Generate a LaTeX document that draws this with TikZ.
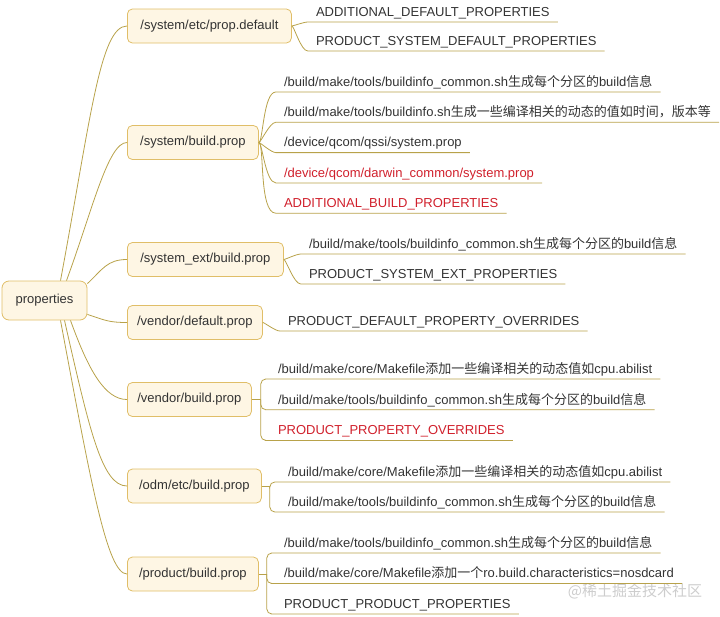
\documentclass[tikz,border=0pt]{standalone}
\usepackage{fontspec}
\setmainfont{Liberation Sans}
\newfontfamily\cjk{Noto Sans CJK SC}
\usepackage{tikz}

\definecolor{boxline}{RGB}{224,190,104}
\definecolor{boxfill}{RGB}{254,246,228}
\definecolor{linkolive}{RGB}{184,162,74}
\definecolor{txtgray}{RGB}{51,51,51}
\definecolor{propred}{RGB}{208,32,44}
\definecolor{wmgray}{RGB}{205,205,205}

\newcommand{\zw}[1]{{\cjk #1}}

\begin{document}
\begin{tikzpicture}[
            x = 1pt, y = 1pt, % one unit per pixel
            font = \fontsize{13}{15}\selectfont,
            text = txtgray
        ]

        \tikzstyle{propbox}=[
            draw = boxline,
            fill = boxfill,
            line width = 0.8pt,
            rounded corners = 5pt,
            minimum height = 34pt,
            anchor = west
        ]
        \tikzstyle{leaf}=[
            anchor = south west,
            inner xsep = 8pt,
            inner ysep = 0pt,
            text height = 10pt,
            text depth = 5.5pt
        ]
        \tikzstyle{link}=[draw = linkolive, line width = 0.8pt]
        \tikzstyle{fan}=[out = 0, in = 180, out looseness = 0.2, in looseness = 0.6]
        \tikzstyle{bracket}=[link, rounded corners = 5pt]

        \useasboundingbox (0,0) rectangle (720,-616);

        \node[propbox, anchor=center, minimum width=85pt, minimum height=39pt, rounded corners=7pt] (root) at (44.5,-300.5) {properties};

        \node[propbox, minimum width=164pt] (pd) at (127,-26) {/system/etc/prop.default};
        \node[propbox, minimum width=131pt] (sysb) at (127,-142.5) {/system/build.prop};
        \node[propbox, minimum width=156pt] (sext) at (127,-259.5) {/system\_ext/build.prop};
        \node[propbox, minimum width=135pt] (vdef) at (127,-322.5) {/vendor/default.prop};
        \node[propbox, minimum width=124pt] (vb) at (127,-399.5) {/vendor/build.prop};
        \node[propbox, minimum width=134pt] (odm) at (127,-486) {/odm/etc/build.prop};
        \node[propbox, minimum width=131pt] (prod) at (127,-574) {/product/build.prop};

        % /system/etc/prop.default
        \node[leaf] (pd1) at ([xshift=16pt,yshift=4pt]pd.east) {ADDITIONAL\_DEFAULT\_PROPERTIES};
        \node[leaf] (pd2) at ([yshift=-29pt]pd1.south west) {PRODUCT\_SYSTEM\_DEFAULT\_PROPERTIES};

        % /system/build.prop
        \node[leaf] (sb1) at ([xshift=17pt,yshift=50.5pt]sysb.east) {/build/make/tools/buildinfo\_common.sh\zw{生成每个分区的}build\zw{信息}};
        \node[leaf] (sb2) at ([yshift=-30.3pt]sb1.south west) {/build/make/tools/buildinfo.sh\zw{生成一些编译相关的动态的值如时间，版本等}};
        \node[leaf] (sb3) at ([yshift=-30.3pt]sb2.south west) {/device/qcom/qssi/system.prop};
        \node[leaf, text=propred] (sb4) at ([yshift=-30.3pt]sb3.south west) {/device/qcom/darwin\_common/system.prop};
        \node[leaf, text=propred] (sb5) at ([yshift=-30.3pt]sb4.south west) {ADDITIONAL\_BUILD\_PROPERTIES};

        % /system_ext/build.prop
        \node[leaf] (se1) at ([xshift=17pt,yshift=5.5pt]sext.east) {/build/make/tools/buildinfo\_common.sh\zw{生成每个分区的}build\zw{信息}};
        \node[leaf] (se2) at ([yshift=-30pt]se1.south west) {PRODUCT\_SYSTEM\_EXT\_PROPERTIES};

        % /vendor/default.prop
        \node[leaf] (vd1) at ([xshift=17pt,yshift=-8.5pt]vdef.east) {PRODUCT\_DEFAULT\_PROPERTY\_OVERRIDES};

        % /vendor/build.prop
        \node[leaf] (vb1) at ([xshift=18pt,yshift=20.5pt]vb.east) {/build/make/core/Makefile\zw{添加一些编译相关的动态值如}cpu.abilist};
        \node[leaf] (vb2) at ([yshift=-30.7pt]vb1.south west) {/build/make/tools/buildinfo\_common.sh\zw{生成每个分区的}build\zw{信息}};
        \node[leaf, text=propred] (vb3) at ([yshift=-30.7pt]vb2.south west) {PRODUCT\_PROPERTY\_OVERRIDES};

        % /odm/etc/build.prop
        \node[leaf] (od1) at ([xshift=18pt,yshift=4pt]odm.east) {/build/make/core/Makefile\zw{添加一些编译相关的动态值如}cpu.abilist};
        \node[leaf] (od2) at ([yshift=-30pt]od1.south west) {/build/make/tools/buildinfo\_common.sh\zw{生成每个分区的}build\zw{信息}};

        % /product/build.prop
        \node[leaf] (pr1) at ([xshift=17pt,yshift=21pt]prod.east) {/build/make/tools/buildinfo\_common.sh\zw{生成每个分区的}build\zw{信息}};
        \node[leaf] (pr2) at ([yshift=-30.5pt]pr1.south west) {/build/make/core/Makefile\zw{添加一个}ro.build.characteristics=nosdcard};
        \node[leaf] (pr3) at ([yshift=-30.5pt]pr2.south west) {PRODUCT\_PRODUCT\_PROPERTIES};

        \node[text=wmgray, font=\cjk\fontsize{15}{17}\selectfont] (wm) at (635,-591) {@稀土掘金技术社区};

        \coordinate (vbj) at ([xshift=9pt]vb.east);
        \coordinate (odj) at ([xshift=8pt]odm.east);
        \coordinate (prj) at ([xshift=8pt]prod.east);

        % root to first level
        \draw[link] ([xshift=16pt]root.north) .. controls +(30,161) and +(-27,0) .. (pd.west);
        \draw[link] ([xshift=22pt]root.north) .. controls +(26,71) and +(-19,0) .. (sysb.west);
        \draw[link] ([yshift=-3pt]root.north east) .. controls +(15,14) and +(-20,0) .. (sext.west);
        \draw[link] ([yshift=6pt]root.south east) .. controls +(18,-6) and +(-18,0) .. (vdef.west);
        \draw[link] ([xshift=26pt]root.south) .. controls +(18,-50) and +(-22,0) .. (vb.west);
        \draw[link] ([xshift=20pt]root.south) .. controls +(25,-110) and +(-25,0) .. (odm.west);
        \draw[link] ([xshift=16pt]root.south) .. controls +(30,-160) and +(-20,0) .. (prod.west);

        % second level, fanned
        \draw[link] (pd.east) to[fan] (pd1.south west) -- (pd1.south east);
        \draw[link] (pd.east) to[fan] (pd2.south west) -- (pd2.south east);
        \draw[link] (sysb.east) to[fan] (sb1.south west) -- (sb1.south east);
        \draw[link] (sysb.east) to[fan] (sb2.south west) -- (sb2.south east);
        \draw[link] (sysb.east) to[fan] (sb3.south west) -- (sb3.south east);
        \draw[link] (sysb.east) to[fan] (sb4.south west) -- (sb4.south east);
        \draw[link] (sysb.east) to[fan] (sb5.south west) -- (sb5.south east);
        \draw[link] (sext.east) to[fan] (se1.south west) -- (se1.south east);
        \draw[link] (sext.east) to[fan] (se2.south west) -- (se2.south east);
        \draw[link] (vdef.east) to[fan] (vd1.south west) -- (vd1.south east);

        % second level, bracketed
        \draw[link] (vb.east) -- (vbj);
        \draw[bracket] (vbj) |- (vb1.south west) -- (vb1.south east);
        \draw[bracket] (vbj) |- (vb2.south west) -- (vb2.south east);
        \draw[bracket] (vbj) |- (vb3.south west) -- (vb3.south east);
        \draw[link] (odm.east) -- (odj);
        \draw[bracket] (odj) |- (od1.south west) -- (od1.south east);
        \draw[bracket] (odj) |- (od2.south west) -- (od2.south east);
        \draw[link] (prod.east) -- (prj);
        \draw[bracket] (prj) |- (pr1.south west) -- (pr1.south east);
        \draw[bracket] (prj) |- (pr2.south west) -- (pr2.south east);
        \draw[bracket] (prj) |- (pr3.south west) -- (pr3.south east);
    \end{tikzpicture}
\end{document}
